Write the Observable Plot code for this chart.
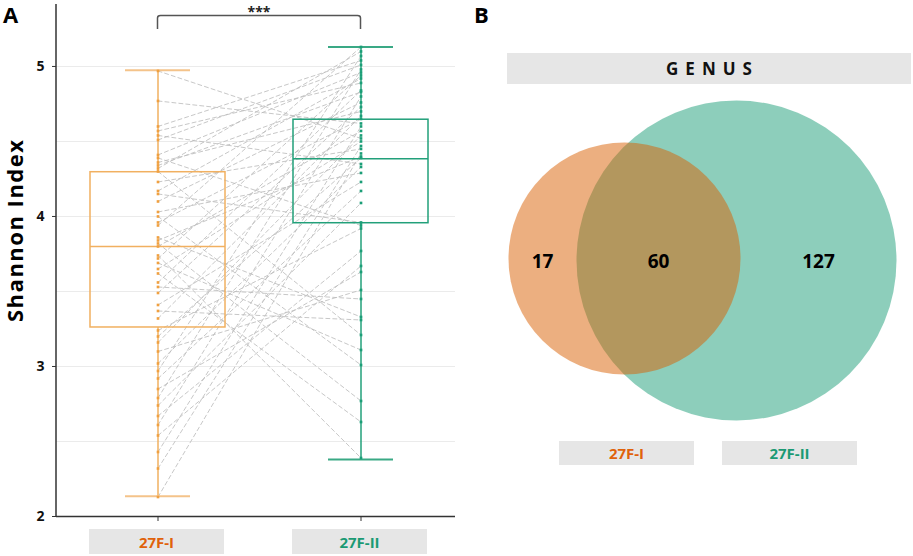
<!DOCTYPE html>
<html><head><meta charset="utf-8">
<script src="https://cdn.jsdelivr.net/npm/d3@7"></script>
<script src="https://cdn.jsdelivr.net/npm/@observablehq/plot@0.6"></script>
<style>
body{margin:0;background:#fff;font-family:"Open Sans",sans-serif;}
#wrap{position:relative;width:913px;height:556px;overflow:hidden;background:#fff;}
.panel{position:absolute;top:0;}
.lab{position:absolute;background:#e6e6e6;font-weight:700;font-size:15px;display:flex;align-items:center;justify-content:center;font-family:"Open Sans",sans-serif;}
.tag{position:absolute;font-weight:700;font-size:22px;color:#000;font-family:"Open Sans",sans-serif;line-height:1;}
</style></head><body><div id="wrap"></div>
<script>
// ---------- DATA ----------
const groups = ["27F-I", "27F-II"];
// paired Shannon index values (same sample index in both arrays)
const shannonI = [4.97,4.77,4.60,4.57,4.54,4.51,4.41,4.39,4.36,4.34,4.32,4.30,4.23,4.17,4.15,4.10,4.03,4.00,3.96,3.94,3.86,3.84,3.82,3.80,3.74,3.72,3.69,3.65,3.62,3.56,3.53,3.49,3.41,3.37,3.32,3.24,3.20,3.16,3.10,3.02,2.97,2.92,2.85,2.79,2.74,2.67,2.61,2.54,2.43,2.32,2.13];
const shannonII = [4.52,4.62,5.04,4.89,4.35,5.01,4.96,3.94,4.70,4.83,5.10,3.21,4.45,4.92,3.96,4.76,4.29,3.01,4.65,5.13,3.33,4.40,2.77,4.57,2.39,4.94,3.11,4.50,2.63,4.84,3.45,4.73,4.23,3.31,4.67,3.92,4.39,4.54,3.51,4.33,5.07,4.17,3.63,4.98,4.09,3.77,4.80,3.67,4.60,4.47,4.42];
// box-plot statistics per group
const boxQ1 = [3.26, 3.955];
const boxMedian = [3.80, 4.385];
const boxQ3 = [4.295, 4.645];
const whiskerLow = [2.135, 2.38];
const whiskerHigh = [4.975, 5.13];
const yTickValues = [2, 3, 4, 5];
const yGridValues = [2.5, 3, 3.5, 4, 4.5, 5];
const significance = "***";
// Venn (genus)
const vennTitle = "GENUS";
const vennSets = ["27F-I", "27F-II"];
const vennSetSizes = [77, 187];
const vennRegionLabels = ["17", "60", "127"];

// ---------- STYLE / LAYOUT ----------
const boxColor = {"27F-I": "#f1b060", "27F-II": "#22a07a"};
const capColor = {"27F-I": "#f4c38a", "27F-II": "#3aa985"};
const dotColor = {"27F-I": "#f0a040", "27F-II": "#1b9e77"};
const labelColor = {"27F-I": "#e0620a", "27F-II": "#1b9a74"};
const vennFill = {"27F-I": "#d95f02", "27F-II": "#1b9e77"};
const vennLayout = {cx: [164, 276], cy: [258, 260]};
const FONT = "Open Sans, sans-serif";

const wrap = document.getElementById("wrap");

// ---------- PANEL A ----------
const pairs = shannonI.flatMap((v, i) => [
  {id: i, group: groups[0], value: v},
  {id: i, group: groups[1], value: shannonII[i]}
]);
const stats = groups.map((g, i) => ({group: g, lo: whiskerLow[i], q1: boxQ1[i], med: boxMedian[i], q3: boxQ3[i], hi: whiskerHigh[i]}));

const left = Plot.plot({
  width: 460, height: 556,
  marginLeft: 56, marginRight: 5, marginTop: 4, marginBottom: 40,
  style: {fontFamily: FONT, background: "transparent", overflow: "visible"},
  x: {domain: groups, range: [90, 428], paddingInner: 0.335, paddingOuter: 0},
  y: {domain: [2, 5.413]},
  marks: [
    Plot.ruleY(yGridValues, {stroke: "#ebebeb", strokeWidth: 1}),
    Plot.line(pairs, {x: "group", y: "value", z: "id", stroke: "#bdbdbd", strokeWidth: 0.85, strokeDasharray: "4,3"}),
    Plot.barY(stats, {x: "group", y1: "q1", y2: "q3", fill: "none", stroke: d => boxColor[d.group], strokeWidth: 1.5}),
    Plot.tickY(stats, {x: "group", y: "med", stroke: d => boxColor[d.group], strokeWidth: 1.5}),
    Plot.ruleX(stats, {x: "group", y1: "q3", y2: "hi", stroke: d => boxColor[d.group], strokeWidth: 1.5}),
    Plot.ruleX(stats, {x: "group", y1: "lo", y2: "q1", stroke: d => boxColor[d.group], strokeWidth: 1.5}),
    Plot.tickY(stats, {x: "group", y: "hi", insetLeft: 35, insetRight: 35, stroke: d => capColor[d.group], strokeWidth: 2}),
    Plot.tickY(stats, {x: "group", y: "lo", insetLeft: 35, insetRight: 35, stroke: d => capColor[d.group], strokeWidth: 2}),
    Plot.dot(pairs, {x: "group", y: "value", r: 1.5, symbol: "square", fill: d => dotColor[d.group], stroke: "none"}),
    Plot.ruleY([2], {stroke: "#333", strokeWidth: 1.5}),
    Plot.axisY({ticks: yTickValues, tickFormat: "d", tickSize: 4, tickPadding: 8, fontSize: 14, fontWeight: "bold", fill: "#111", stroke: "#333", label: null}),
    Plot.axisX({tickSize: 5, tickFormat: () => "", stroke: "#333", label: null})
  ]
});
left.classList.add("panel");
left.style.left = "0px";
wrap.appendChild(left);

const xs = left.scale("x"), ys = left.scale("y");
const sel = d3.select(left);
sel.selectAll("text").filter(function () { return /^[2-5]$/.test(this.textContent); })
  .attr("font-weight", 700).style("font-weight", 700);
// left axis line
sel.append("line").attr("x1", 56).attr("x2", 56)
  .attr("y1", ys.apply(ys.domain[1])).attr("y2", ys.apply(2) + 0.75)
  .attr("stroke", "#333").attr("stroke-width", 1.5);
// axis title
sel.append("text").attr("transform", "translate(14,231) rotate(-90)")
  .attr("text-anchor", "middle").attr("dominant-baseline", "central")
  .attr("font-family", FONT).attr("font-weight", 700).attr("font-size", 22).attr("fill", "#000")
  .attr("textLength", 182).attr("lengthAdjust", "spacing")
  .text("Shannon Index");
// significance bracket
const bx1 = xs.apply(groups[0]) + xs.bandwidth / 2, bx2 = xs.apply(groups[1]) + xs.bandwidth / 2;
sel.append("path").attr("d", `M${bx1},29 V18 Q${bx1},15.5 ${bx1 + 3},15.5 H${bx2 - 3} Q${bx2},15.5 ${bx2},18 V29`)
  .attr("fill", "none").attr("stroke", "#555").attr("stroke-width", 1.5);
sel.append("text").attr("x", (bx1 + bx2) / 2).attr("y", 17).attr("text-anchor", "middle")
  .attr("font-family", FONT).attr("font-weight", 700).attr("font-size", 14).attr("fill", "#222")
  .text(significance);

// category label boxes
groups.forEach(g => {
  const d = document.createElement("div");
  d.className = "lab";
  d.style.left = (xs.apply(g) - 1) + "px";
  d.style.top = "529px";
  d.style.width = xs.bandwidth + "px";
  d.style.height = "25px";
  d.style.color = labelColor[g];
  d.textContent = g;
  wrap.appendChild(d);
});

// ---------- PANEL B ----------
const circles = vennSets.map((s, i) => ({set: s, size: vennSetSizes[i], cx: vennLayout.cx[i], cy: vennLayout.cy[i]}));
const rScale = d3.scaleLinear().domain([77, 187]).range([116, 160]);
const r1 = rScale(vennSetSizes[0]), r2 = rScale(vennSetSizes[1]);
const [c1, c2] = vennLayout.cx;
const midY = (vennLayout.cy[0] + vennLayout.cy[1]) / 2 + 2;
const regionX = [((c1 - r1) + (c2 - r2)) / 2, ((c2 - r2) + (c1 + r1)) / 2, ((c1 + r1) + (c2 + r2)) / 2];
const regions = vennRegionLabels.map((t, i) => ({text: t, x: regionX[i], y: midY}));

const venn = Plot.plot({
  width: 453, height: 556, margin: 0,
  style: {fontFamily: FONT, background: "transparent"},
  x: {domain: [0, 453], range: [0, 453], axis: null},
  y: {domain: [0, 556], range: [0, 556], axis: null},
  r: {type: "linear", domain: [77, 187], range: [116, 160]},
  marks: [
    Plot.dot(circles.filter(d => d.set === vennSets[1]), {x: "cx", y: "cy", r: "size", fill: vennFill[vennSets[1]], fillOpacity: 0.5, stroke: "none"}),
    Plot.dot(circles.filter(d => d.set === vennSets[0]), {x: "cx", y: "cy", r: "size", fill: vennFill[vennSets[0]], fillOpacity: 0.5, stroke: "none"}),
    Plot.text(regions, {x: "x", y: "y", text: "text", fontSize: 19, fontWeight: "bold", fill: "#000"})
  ]
});
venn.classList.add("panel");
venn.style.left = "460px";
wrap.appendChild(venn);

// GENUS header
const gh = document.createElement("div");
gh.className = "lab";
gh.style.left = "507px"; gh.style.top = "53px"; gh.style.width = "404px"; gh.style.height = "31px";
gh.style.color = "#111"; gh.style.fontSize = "17px"; gh.style.letterSpacing = "7px"; gh.style.paddingLeft = "7px"; gh.style.boxSizing = "border-box";
gh.textContent = vennTitle;
wrap.appendChild(gh);

// venn set labels
const vennLabelLeft = [559, 722];
vennSets.forEach((s, i) => {
  const d = document.createElement("div");
  d.className = "lab";
  d.style.left = vennLabelLeft[i] + "px"; d.style.top = "441px";
  d.style.width = "135px"; d.style.height = "24px";
  d.style.color = labelColor[s];
  d.textContent = s;
  wrap.appendChild(d);
});

// panel tags
[["A", 3, 3], ["B", 474, 3]].forEach(([t, x, y]) => {
  const d = document.createElement("div");
  d.className = "tag"; d.style.left = x + "px"; d.style.top = y + "px";
  d.textContent = t; wrap.appendChild(d);
});
</script></body></html>
